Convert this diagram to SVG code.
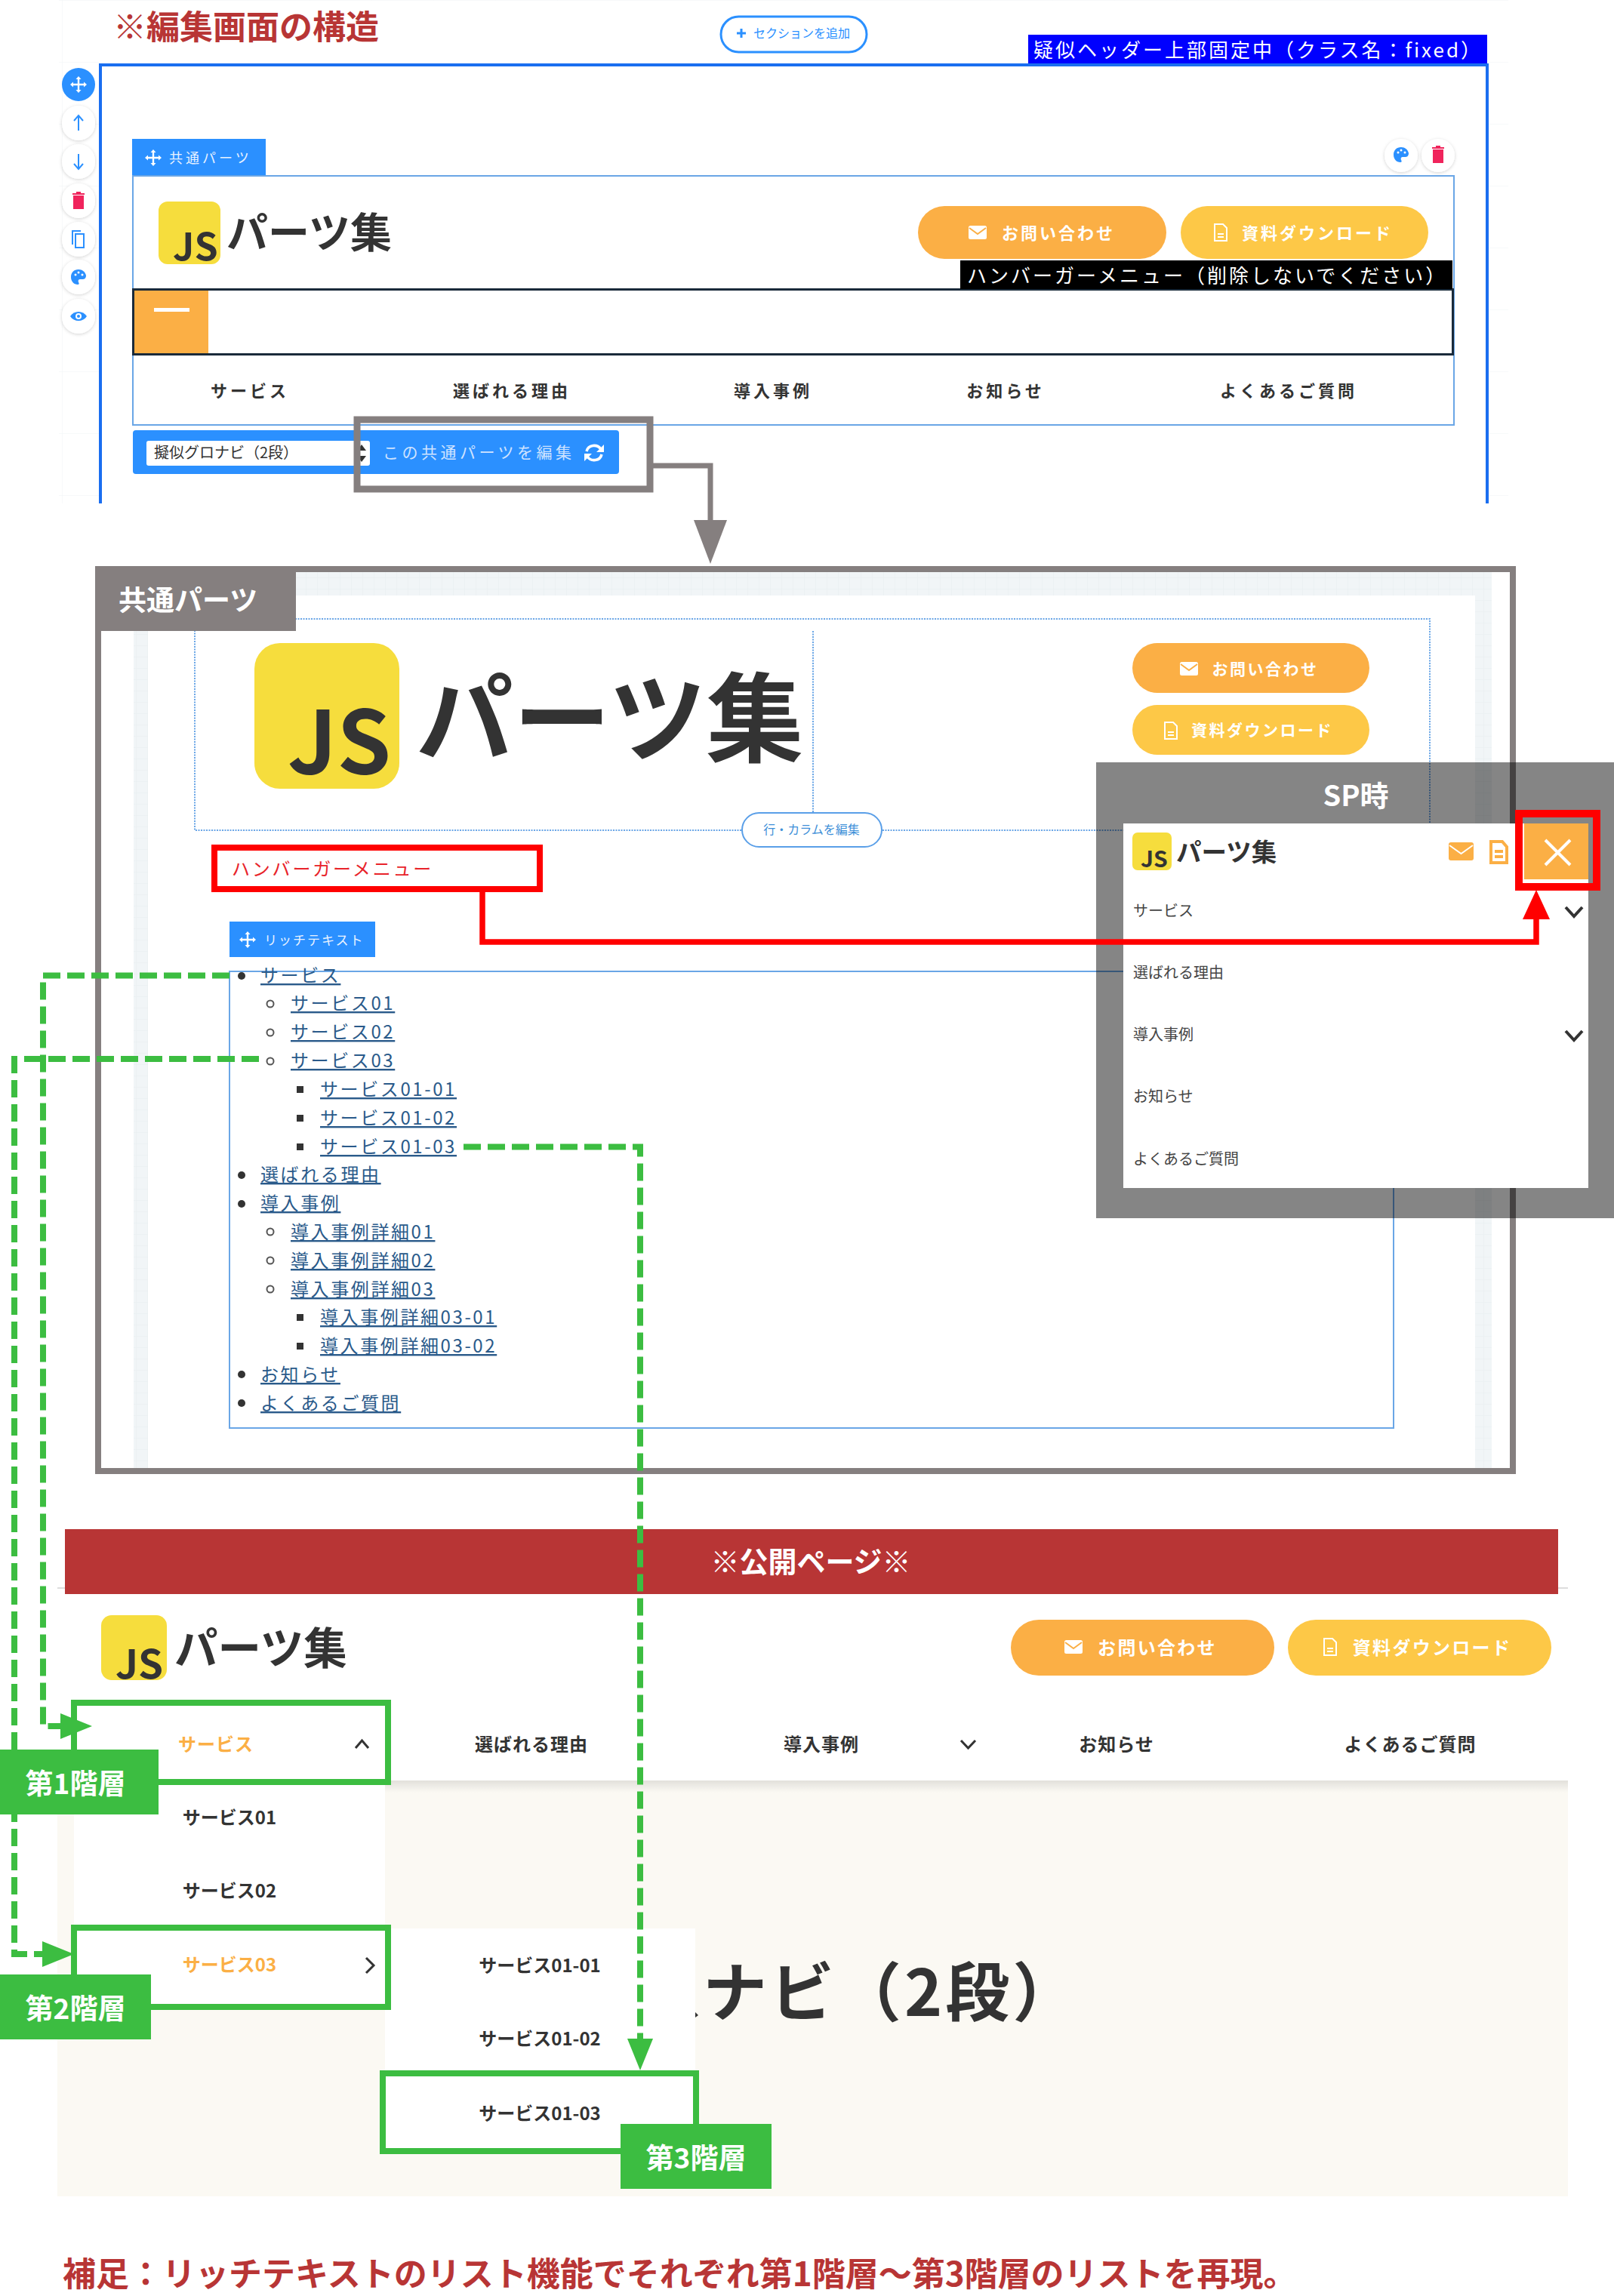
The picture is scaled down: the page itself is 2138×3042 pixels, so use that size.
<svg xmlns="http://www.w3.org/2000/svg" width="2138" height="3042" viewBox="0 0 2138 3042">
<style>
text{font-family:"Noto Sans CJK JP","Noto Sans",sans-serif}
.m{text-anchor:middle}
.b{font-weight:700}
.wt{fill:#fff}
.blue{fill:#2b90ff}
.pill{fill:#fff;stroke:#2b90ff;stroke-width:3}
.org{fill:#fbaf45}
.yel{fill:#fdc847}
.logo{fill:#f6dd3d}
.ink{fill:#333}
.nav{font-weight:700;font-size:22px;letter-spacing:4px;fill:#333;text-anchor:middle}
.pnav{font-weight:700;font-size:24px;letter-spacing:1px;fill:#333;text-anchor:middle}
.btn1{font-weight:700;font-size:22px;letter-spacing:3px;fill:#fff;text-anchor:middle}
.btn2{font-weight:700;font-size:21px;letter-spacing:2.5px;fill:#fff;text-anchor:middle}
.btn3{font-weight:700;font-size:24px;letter-spacing:2.300px;fill:#fff;text-anchor:middle}
.fr{fill:none;stroke:#6aa6e6;stroke-width:2}
.dot{fill:none;stroke:#6aa6e6;stroke-width:2;stroke-dasharray:2 1.5}
.gray{fill:none;stroke:#857f7f;stroke-width:8}
.redbox{fill:none;stroke:#f00;stroke-width:8}
.gbox{fill:none;stroke:#3cbd41;stroke-width:8}
.glabel{fill:#3cbd41}
.gtxt{fill:#fff;font-weight:700;font-size:37px;text-anchor:middle}
.dash{fill:none;stroke:#3cbd41;stroke-width:8;stroke-dasharray:23 9}
.link{font-size:24px;letter-spacing:2.600px;fill:#2a5a8a;text-decoration:underline}
.sp{font-size:20px;fill:#444}
.sub{font-weight:700;font-size:24px;fill:#333;text-anchor:middle}
.chev{fill:none;stroke:#333;stroke-width:3}
.chevb{fill:none;stroke:#333;stroke-width:4}
.tool{fill:#fff;filter:url(#sh)}
</style>
<defs>
<linearGradient id="shade" x1="0" y1="0" x2="0" y2="1"><stop offset="0" stop-color="#000" stop-opacity=".1"/><stop offset="1" stop-color="#000" stop-opacity="0"/></linearGradient>
<pattern id="g1" width="82" height="82" patternUnits="userSpaceOnUse"><path d="M82 0H0V82" fill="none" stroke="#f0f3f5" stroke-width="1"/></pattern>
<pattern id="g2" width="15" height="15" patternUnits="userSpaceOnUse"><rect width="15" height="15" fill="#f1f5f7"/><path d="M15 0H0V15" fill="none" stroke="#e8edf0" stroke-width="1"/></pattern>
<filter id="sh" x="-30%" y="-30%" width="160%" height="160%"><feDropShadow dx="0" dy="1" stdDeviation="2" flood-color="#000" flood-opacity=".18"/></filter>
<marker id="ah-gray" markerUnits="userSpaceOnUse" markerWidth="58" markerHeight="44" refX="0" refY="22" orient="auto"><path d="M0 0L58 22L0 44Z" fill="#857f7f"/></marker>
<marker id="ah-red" markerUnits="userSpaceOnUse" markerWidth="39" markerHeight="36" refX="0" refY="18" orient="auto"><path d="M0 0L39 18L0 36Z" fill="#f00"/></marker>
<marker id="ah-green" markerUnits="userSpaceOnUse" markerWidth="42" markerHeight="34" refX="0" refY="17" orient="auto"><path d="M0 0L42 17L0 34Z" fill="#3cbd41"/></marker>
<g id="i-move"><path d="M0-11L3.500-7H1.200V-1.200H7V-3.500L11 0L7 3.500V1.200H1.200V7H3.500L0 11L-3.500 7H-1.200V1.200H-7V3.500L-11 0L-7-3.500V-1.200H-1.200V-7H-3.500Z" fill="currentColor"/></g>
<g id="i-mail"><rect x="-12" y="-9" width="24" height="18" rx="2.500" fill="currentColor"/><path d="M-11-6L0 2L11-6" fill="none" stroke="#fbaf45" stroke-width="2"/></g>
<g id="i-doc"><path d="M-8-11H3L8-6V11H-8Z M-4 2H4M-4 6H4" fill="none" stroke="currentColor" stroke-width="2"/></g>
<g id="i-palette"><path d="M0-10C-6-10-10-6-10 0C-10 6-6 10-1 10C1 10 1 8 0 7C-1 5 0 3 2 3H6C9 3 10 0 10-2C9-7 5-10 0-10Z" fill="currentColor"/><circle cx="-4" cy="-3" r="1.500" fill="#fff"/><circle cx="0" cy="-6" r="1.500" fill="#fff"/><circle cx="5" cy="-3" r="1.500" fill="#fff"/></g>
<g id="i-trash"><path d="M-7-7H7V11H-7ZM-8-10H-3V-12H3V-10H8V-8H-8Z" fill="#f0245c"/></g>
<g id="i-up"><path d="M0 10V-9M-6-3L0-10L6-3" fill="none" stroke="#2b90ff" stroke-width="2"/></g>
<g id="i-copy"><path d="M-4-7H7V11H-4ZM-8 7V-11H3" fill="none" stroke="#2b90ff" stroke-width="2"/></g>
<g id="i-eye"><path d="M-11 0C-6-8 6-8 11 0C6 8-6 8-11 0Z" fill="#2b90ff"/><circle r="4" fill="#fff"/><circle r="2" fill="#2b90ff"/></g>
<g id="i-refresh"><path d="M-10-2C-8-11 4-12 9-5M10 2C8 11-4 12-9 5" fill="none" stroke="#fff" stroke-width="3.500"/><path d="M13-11V-1H3ZM-13 11V1H-3Z" fill="#fff"/></g>
<g id="i-plus"><path d="M-6 0H6M0-6V6" stroke="currentColor" stroke-width="3" fill="none"/></g>
</defs>
<rect width="2138" height="3042" fill="#fff"/>

<g id="editor-screen">
<rect x="78" y="0" width="1920" height="667" fill="url(#g1)"/>
<rect x="131" y="1" width="1841" height="666" fill="#fff"/>
<text x="150" y="52" font-size="44" font-weight="700" fill="#b83535">※編集画面の構造</text>
<rect x="955" y="22" width="193" height="47" rx="23.500" class="pill"/>
<use href="#i-plus" x="982" y="44" color="#2b90ff"/>
<text x="998" y="50" font-size="16" fill="#2b90ff">セクションを追加</text>
<path d="M133 667V86H1970V667" fill="none" stroke="#1a6ef0" stroke-width="4"/>
<rect x="1362" y="46" width="608" height="38" fill="#0000ff"/>
<text x="1369" y="76" font-size="26" letter-spacing="3" fill="#fff">疑似ヘッダー上部固定中（クラス名：fixed）</text>
</g>

<g id="editor-tools">
<circle cx="104" cy="112" r="22" class="blue"/><use href="#i-move" x="104" y="112" color="#fff"/>
<rect x="82" y="140" width="44" height="46" rx="22" class="tool"/><use href="#i-up" x="104" y="163"/>
<rect x="82" y="191" width="44" height="46" rx="22" class="tool"/><use href="#i-up" transform="translate(104 214) scale(1 -1)"/>
<rect x="82" y="243" width="44" height="46" rx="22" class="tool"/><use href="#i-trash" x="104" y="266"/>
<rect x="82" y="294" width="44" height="46" rx="22" class="tool"/><use href="#i-copy" x="104" y="317"/>
<rect x="82" y="344" width="44" height="46" rx="22" class="tool"/><use href="#i-palette" x="104" y="367" color="#2b90ff"/>
<rect x="82" y="396" width="44" height="46" rx="22" class="tool"/><use href="#i-eye" x="104" y="419"/>
<rect x="1834" y="184" width="44" height="44" rx="22" class="tool"/><use href="#i-palette" x="1856" y="205" color="#2b90ff"/>
<rect x="1883" y="184" width="44" height="44" rx="22" class="tool"/><use href="#i-trash" x="1905" y="205"/>
</g>

<g id="editor-common-part">
<rect x="175" y="184" width="177" height="49" class="blue"/>
<use href="#i-move" x="203" y="209" color="#fff"/>
<text x="224" y="216" font-size="18" letter-spacing="4" fill="#e8f2ff">共通パーツ</text>
<rect x="176" y="233" width="1750" height="330" class="fr" fill="#fff"/>
<rect x="210" y="267" width="82" height="83" rx="12" class="logo"/>
<text x="229" y="345" font-size="50" font-weight="700" fill="#333" font-family="Open Sans">JS</text>
<text x="300" y="328" font-size="55" class="b ink">パーツ集</text>
<rect x="1216" y="273" width="329" height="70" rx="35" class="org"/>
<use href="#i-mail" x="1295" y="308" color="#fff"/>
<text x="1402" y="317" class="btn1">お問い合わせ</text>
<rect x="1564" y="273" width="328" height="70" rx="35" class="yel"/>
<use href="#i-doc" x="1617" y="308" color="#fff"/>
<text x="1745" y="317" class="btn1">資料ダウンロード</text>
<rect x="176.500" y="383.500" width="1748" height="86" fill="#fff" stroke="#1a2a3a" stroke-width="3"/>
<rect x="178" y="385" width="98" height="83" class="org"/>
<rect x="204" y="408" width="47" height="5" fill="#fff"/>
<rect x="1272" y="345" width="652" height="38" fill="#000"/>
<text x="1281" y="375" font-size="26" letter-spacing="3" fill="#fff">ハンバーガーメニュー（削除しないでください）</text>
<text x="331" y="526" class="nav">サービス</text>
<text x="678" y="526" class="nav">選ばれる理由</text>
<text x="1024" y="526" class="nav">導入事例</text>
<text x="1332" y="526" class="nav">お知らせ</text>
<text x="1707" y="526" class="nav">よくあるご質問</text>
<rect x="176" y="570" width="644" height="58" rx="4" class="blue"/>
<rect x="194" y="584" width="296" height="33" rx="3" fill="#fff"/>
<path d="M479 589L485 597H473ZM479 612L485 604H473Z" fill="#333"/>
<text x="204" y="607" font-size="20" fill="#333">擬似グロナビ（2段）</text>
<text x="507" y="607" font-size="21" letter-spacing="4.500" fill="#cfe3ff">この共通パーツを編集</text>
<use href="#i-refresh" x="787" y="600"/>
<rect x="473" y="556" width="388" height="92" class="gray" style="stroke-width:9"/>
</g>

<g id="common-part-panel">
<rect x="134" y="758" width="1866" height="1187" fill="#fff"/>
<rect x="177" y="758" width="1799" height="1187" fill="url(#g2)"/>
<rect x="196" y="789" width="1758" height="1156" fill="#fff"/>
<rect x="258" y="820" width="1636" height="280" class="dot"/>
<path d="M1077 836V1076" class="dot"/>
<rect x="983" y="1077" width="185" height="45" rx="22.500" fill="#fff" stroke="#5a9fe8" stroke-width="2"/>
<text x="1075" y="1105" font-size="16" fill="#3e8fd8" class="m">行・カラムを編集</text>
<rect x="337" y="852" width="192" height="193" rx="34" class="logo"/>
<text x="381" y="1025" font-size="115" font-weight="700" fill="#333" font-family="Open Sans">JS</text>
<text x="551" y="1000" font-size="129" class="b ink">パーツ集</text>
<rect x="1500" y="852" width="314" height="66" rx="33" class="org"/>
<use href="#i-mail" x="1575" y="886" color="#fff"/>
<text x="1676" y="894" class="btn2">お問い合わせ</text>
<rect x="1500" y="934" width="314" height="66" rx="33" class="yel"/>
<use href="#i-doc" x="1551" y="968" color="#fff"/>
<text x="1672" y="975" class="btn2">資料ダウンロード</text>
<text x="307" y="1160" font-size="24" letter-spacing="2.800" fill="#e8232a">ハンバーガーメニュー</text>
<rect x="304" y="1221" width="193" height="47" class="blue"/>
<use href="#i-move" x="328" y="1245" color="#fff"/>
<text x="350" y="1252" font-size="17" letter-spacing="2" fill="#e8f2ff">リッチテキスト</text>
<rect x="304" y="1287" width="1542" height="605" class="fr"/>
</g>

<g id="rich-text-list">
<circle cx="320" cy="1293" r="5" fill="#333"/><text x="345" y="1301" class="link">サービス</text>
<circle cx="358" cy="1330" r="4.500" fill="none" stroke="#555" stroke-width="2"/><text x="385" y="1338" class="link">サービス01</text>
<circle cx="358" cy="1368" r="4.500" fill="none" stroke="#555" stroke-width="2"/><text x="385" y="1376" class="link">サービス02</text>
<circle cx="358" cy="1406" r="4.500" fill="none" stroke="#555" stroke-width="2"/><text x="385" y="1414" class="link">サービス03</text>
<rect x="393" y="1439" width="9" height="9" fill="#333"/><text x="424" y="1452" class="link">サービス01-01</text>
<rect x="393" y="1477" width="9" height="9" fill="#333"/><text x="424" y="1490" class="link">サービス01-02</text>
<rect x="393" y="1515" width="9" height="9" fill="#333"/><text x="424" y="1528" class="link">サービス01-03</text>
<circle cx="320" cy="1557" r="5" fill="#333"/><text x="345" y="1565" class="link">選ばれる理由</text>
<circle cx="320" cy="1595" r="5" fill="#333"/><text x="345" y="1603" class="link">導入事例</text>
<circle cx="358" cy="1632" r="4.500" fill="none" stroke="#555" stroke-width="2"/><text x="385" y="1641" class="link">導入事例詳細01</text>
<circle cx="358" cy="1670" r="4.500" fill="none" stroke="#555" stroke-width="2"/><text x="385" y="1679" class="link">導入事例詳細02</text>
<circle cx="358" cy="1708" r="4.500" fill="none" stroke="#555" stroke-width="2"/><text x="385" y="1717" class="link">導入事例詳細03</text>
<rect x="393" y="1741" width="9" height="9" fill="#333"/><text x="424" y="1754" class="link">導入事例詳細03-01</text>
<rect x="393" y="1779" width="9" height="9" fill="#333"/><text x="424" y="1792" class="link">導入事例詳細03-02</text>
<circle cx="320" cy="1821" r="5" fill="#333"/><text x="345" y="1830" class="link">お知らせ</text>
<circle cx="320" cy="1859" r="5" fill="#333"/><text x="345" y="1868" class="link">よくあるご質問</text>
</g>

<g id="common-part-frame">
<rect x="130" y="754" width="1874" height="1195" class="gray"/>
<rect x="126" y="750" width="266" height="86" fill="#857f7f"/>
<text x="157" y="809" font-size="37" class="b wt">共通パーツ</text>
<rect x="284" y="1123" width="431" height="55" class="redbox"/>
</g>

<g id="sp-panel">
<rect x="1452" y="1010" width="686" height="604" fill="#000" fill-opacity=".48"/>
<text x="1796" y="1068" font-size="38" class="b wt m">SP時</text>
<rect x="1488" y="1091" width="616" height="483" fill="#fff"/>
<rect x="1500" y="1103" width="52" height="50" rx="7" class="logo"/>
<text x="1511" y="1149" font-size="30" font-weight="700" fill="#333" font-family="Open Sans">JS</text>
<text x="1558" y="1141" font-size="33.500" class="b ink">パーツ集</text>
<rect x="1919" y="1116" width="33" height="24" rx="3" class="org"/>
<path d="M1920 1120L1935.500 1131L1951 1120" fill="none" stroke="#fff" stroke-width="2"/>
<path d="M1975 1115H1990L1996 1122V1143H1975ZM1980 1128H1991M1980 1135H1991" fill="none" stroke="#fbaf45" stroke-width="4"/>
<rect x="2019" y="1091" width="85" height="74" class="org"/>
<path d="M2047 1113L2080 1146M2080 1113L2047 1146" fill="none" stroke="#fff" stroke-width="4"/>
<text x="1501" y="1214" class="sp">サービス</text>
<text x="1501" y="1296" class="sp">選ばれる理由</text>
<text x="1501" y="1378" class="sp">導入事例</text>
<text x="1501" y="1460" class="sp">お知らせ</text>
<text x="1501" y="1543" class="sp">よくあるご質問</text>
<path d="M2074 1202L2085 1214L2096 1202" class="chevb"/>
<path d="M2074 1366L2085 1378L2096 1366" class="chevb"/>
<rect x="2012" y="1078" width="103" height="97" class="redbox" style="stroke-width:10"/>
</g>

<g id="public-page">
<rect x="76" y="2103" width="2001" height="2" fill="#ddd"/>
<rect x="76" y="2359" width="2001" height="551" fill="#fbf9f3"/>
<rect x="76" y="2359" width="2001" height="16" fill="url(#shade)"/>
<rect x="86" y="2026" width="1978" height="86" fill="#b83535"/>
<text x="1074" y="2083" font-size="38" class="b wt m">※公開ページ※</text>
<rect x="134" y="2140" width="87" height="86" rx="14" class="logo"/>
<text x="153" y="2224" font-size="53" font-weight="700" fill="#333" font-family="Open Sans">JS</text>
<text x="231" y="2205" font-size="57.500" class="b ink">パーツ集</text>
<rect x="1339" y="2146" width="349" height="74" rx="37" class="org"/>
<use href="#i-mail" x="1422" y="2182" color="#fff"/>
<text x="1533" y="2192" class="btn3">お問い合わせ</text>
<rect x="1706" y="2146" width="349" height="74" rx="37" class="yel"/>
<use href="#i-doc" x="1762" y="2182" color="#fff"/>
<text x="1897" y="2192" class="btn3">資料ダウンロード</text>
<text x="286" y="2320" class="pnav" style="fill:#fbaf45">サービス</text>
<path d="M471 2316L479.500 2306L488 2316" class="chev"/>
<text x="704" y="2320" class="pnav">選ばれる理由</text>
<text x="1088" y="2320" class="pnav">導入事例</text>
<path d="M1273 2306L1282.500 2316L1292 2306" class="chev"/>
<text x="1479" y="2320" class="pnav">お知らせ</text>
<text x="1868" y="2320" class="pnav">よくあるご質問</text>
<rect x="98" y="2359" width="412" height="300" fill="#fff"/>
<rect x="510" y="2555" width="411" height="295" fill="#fff"/>
<text x="931" y="2671" font-size="85" font-weight="700" fill="#333" letter-spacing="4">ナビ（2段）</text>
<path d="M921 2666L925 2670L921 2673Z" fill="#333"/>
<text x="304" y="2417" class="sub">サービス01</text>
<text x="304" y="2514" class="sub">サービス02</text>
<text x="304" y="2612" class="sub" style="fill:#fbaf45">サービス03</text>
<path d="M485 2594L495 2604L485 2614" class="chev"/>
<text x="715" y="2613" class="sub">サービス01-01</text>
<text x="715" y="2710" class="sub">サービス01-02</text>
<text x="715" y="2809" class="sub">サービス01-03</text>
</g>

<g id="green-boxes">
<rect x="98" y="2256" width="416" height="105" class="gbox"/>
<rect x="98" y="2554" width="416" height="105" class="gbox"/>
<rect x="507" y="2747" width="415" height="103" class="gbox"/>
</g>

<g id="connectors">
<path d="M861 617H941V689" fill="none" stroke="#857f7f" stroke-width="7" marker-end="url(#ah-gray)"/>
<path d="M639 1182V1248H2035V1218" fill="none" stroke="#f00" stroke-width="7.500" marker-end="url(#ah-red)"/>
<path d="M304 1292.500H57V2287H80" class="dash" marker-end="url(#ah-green)"/>
<path d="M343 1403H19V2589H56" class="dash" marker-end="url(#ah-green)"/>
<path d="M614 1519.500H848V2701" class="dash" marker-end="url(#ah-green)"/>
</g>

<g id="label-1"><rect x="0" y="2318" width="210" height="86" class="glabel"/><text x="100" y="2377" class="gtxt">第1階層</text></g>
<g id="label-2"><rect x="0" y="2616" width="200" height="86" class="glabel"/><text x="100" y="2675" class="gtxt">第2階層</text></g>
<g id="label-3"><rect x="822" y="2814" width="200" height="86" class="glabel"/><text x="922" y="2873" class="gtxt">第3階層</text></g>

<g id="footnote"><text x="83" y="3029" font-size="44" font-weight="700" fill="#b83535">補足：リッチテキストのリスト機能でそれぞれ第1階層〜第3階層のリストを再現。</text></g>
</svg>
